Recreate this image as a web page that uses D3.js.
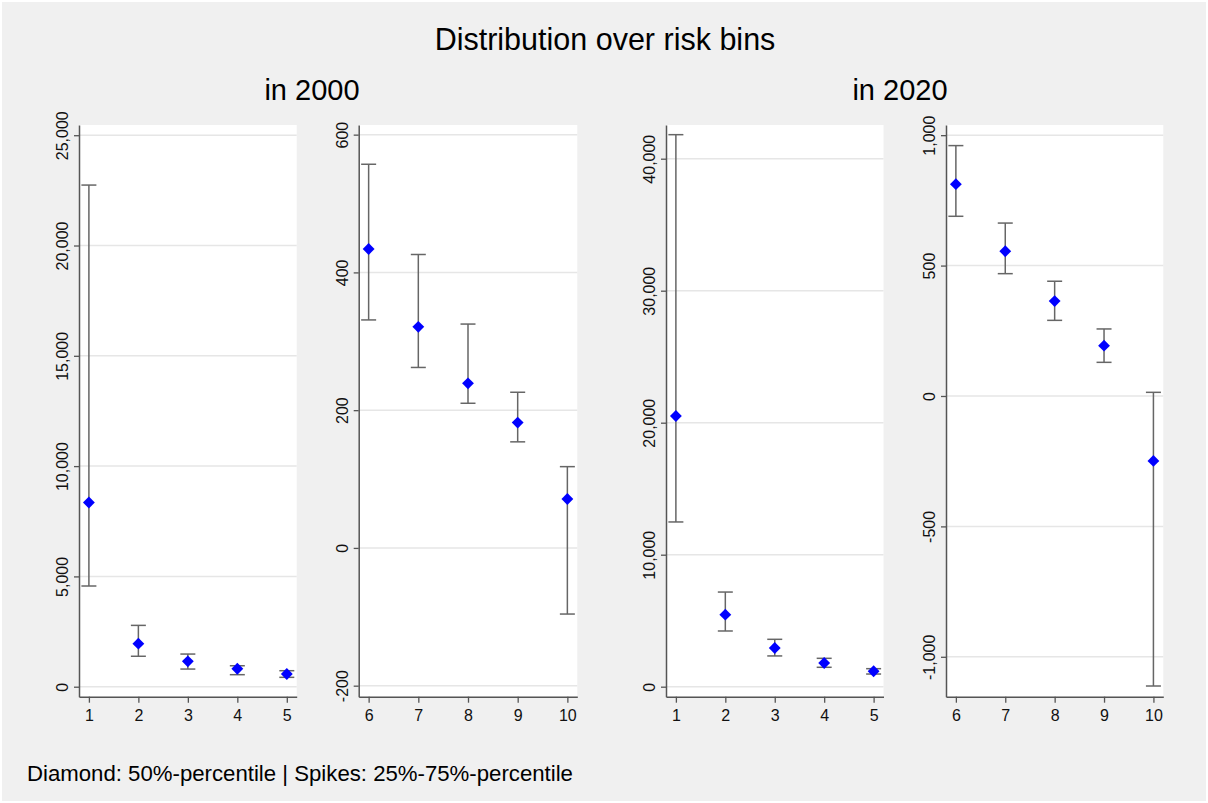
<!DOCTYPE html>
<html>
<head>
<meta charset="utf-8">
<script src="https://cdn.jsdelivr.net/npm/d3@7"></script>
<style>
  body { margin: 0; background: #f0f0f0; }
  svg { display: block; font-family: "Liberation Sans", Arial, sans-serif; }
</style>
</head>
<body>
<div id="chart"></div>
<script>
// risk bins, split in two panels per year
var binsLow = [1, 2, 3, 4, 5];
var binsHigh = [6, 7, 8, 9, 10];

// 50% / 25% / 75% percentiles, bins 1..10
var med2000 = [8350, 1950, 1150, 815, 575, 434, 321, 239, 182, 71];
var p25_2000 = [4565, 1380, 800, 545, 425, 331, 262, 210, 154, -96];
var p75_2000 = [22740, 2780, 1480, 950, 725, 557, 426, 325, 226, 118];

var med2020 = [20510, 5455, 2930, 1795, 1170, 812, 555, 364, 193, -249];
var p25_2020 = [12480, 4220, 2330, 1470, 960, 689, 469, 290, 129, -1112];
var p75_2020 = [41820, 7170, 3590, 2150, 1365, 960, 663, 440, 257, 14];

// y tick labels of each panel
var ticks2000Low = [0, 5000, 10000, 15000, 20000, 25000];
var ticks2000High = [-200, 0, 200, 400, 600];
var ticks2020Low = [0, 10000, 20000, 30000, 40000];
var ticks2020High = [-1000, -500, 0, 500, 1000];

var width = 1208, height = 803;
var plotTop = 125, plotBottom = 696.7;

var fmt = d3.formatLocale({ decimal: ".", thousands: ",", grouping: [3], currency: ["", ""], minus: "-" }).format(",");

function rows(bins, med, lo, hi, offset) {
  return bins.map(function (b, i) {
    return { bin: b, med: med[i + offset], lo: lo[i + offset], hi: hi[i + offset] };
  });
}

var panels = [
  { left: 79, right: 296.7, bins: binsLow, data: rows(binsLow, med2000, p25_2000, p75_2000, 0), ydom: [-453, 25463], ticks: ticks2000Low },
  { left: 358.7, right: 577.3, bins: binsHigh, data: rows(binsHigh, med2000, p25_2000, p75_2000, 5), ydom: [-216, 614], ticks: ticks2000High },
  { left: 666, right: 883.5, bins: binsLow, data: rows(binsLow, med2020, p25_2020, p75_2020, 0), ydom: [-758, 42553], ticks: ticks2020Low },
  { left: 946, right: 1163.3, bins: binsHigh, data: rows(binsHigh, med2020, p25_2020, p75_2020, 5), ydom: [-1153, 1039], ticks: ticks2020High }
];

var svg = d3.select("#chart").append("svg")
  .attr("width", width)
  .attr("height", height);

svg.append("rect")
  .attr("x", 1).attr("y", 1)
  .attr("width", width - 2).attr("height", height - 2)
  .attr("fill", "#f0f0f0")
  .attr("stroke", "#ffffff")
  .attr("stroke-width", 2);

// titles
svg.append("text").attr("x", 605).attr("y", 50).attr("text-anchor", "middle")
  .attr("font-size", 30.5).text("Distribution over risk bins");
svg.append("text").attr("x", 312).attr("y", 100).attr("text-anchor", "middle")
  .attr("font-size", 29).text("in 2000");
svg.append("text").attr("x", 900).attr("y", 100).attr("text-anchor", "middle")
  .attr("font-size", 29).text("in 2020");
svg.append("text").attr("x", 27).attr("y", 781)
  .attr("font-size", 22.2).text("Diamond: 50%-percentile | Spikes: 25%-75%-percentile");

panels.forEach(function (p) {
  var x = d3.scaleLinear()
    .domain([p.bins[0] - 0.2, p.bins[p.bins.length - 1] + 0.2])
    .range([p.left, p.right]);
  var y = d3.scaleLinear().domain(p.ydom).range([plotBottom, plotTop]);

  var g = svg.append("g");

  // plot region
  g.append("rect")
    .attr("x", p.left).attr("y", plotTop)
    .attr("width", p.right - p.left).attr("height", plotBottom - plotTop)
    .attr("fill", "#ffffff");

  // grid
  g.selectAll(".grid").data(p.ticks).enter().append("line")
    .attr("x1", p.left).attr("x2", p.right)
    .attr("y1", function (d) { return y(d); })
    .attr("y2", function (d) { return y(d); })
    .attr("stroke", "#e6e6e6")
    .attr("stroke-width", 1.5);

  // y axis
  var ya = g.append("g")
    .attr("transform", "translate(" + p.left + ",0)")
    .call(d3.axisLeft(y).tickValues(p.ticks).tickSize(5).tickSizeOuter(0).tickFormat(fmt));
  ya.select(".domain").attr("stroke", "#555").attr("stroke-width", 1.5);
  ya.selectAll(".tick line").attr("stroke", "#555").attr("stroke-width", 1.3);
  ya.selectAll(".tick text")
    .attr("x", 0).attr("y", -11).attr("dy", null)
    .attr("text-anchor", "middle")
    .attr("transform", "rotate(-90)")
    .attr("font-size", 16)
    .attr("font-family", "Liberation Sans, Arial, sans-serif")
    .attr("fill", "#111");

  // x axis
  var xa = g.append("g")
    .attr("transform", "translate(0," + plotBottom + ")")
    .call(d3.axisBottom(x).tickValues(p.bins).tickSize(6).tickSizeOuter(0).tickPadding(7).tickFormat(d3.format("d")));
  xa.select(".domain").attr("stroke", "#555").attr("stroke-width", 1.5);
  xa.selectAll(".tick line").attr("stroke", "#555").attr("stroke-width", 1.3);
  xa.selectAll(".tick text")
    .attr("font-size", 16)
    .attr("font-family", "Liberation Sans, Arial, sans-serif")
    .attr("fill", "#111");

  // spikes
  var spikes = g.selectAll(".spike").data(p.data).enter().append("g");
  spikes.append("line")
    .attr("x1", function (d) { return x(d.bin); })
    .attr("x2", function (d) { return x(d.bin); })
    .attr("y1", function (d) { return y(d.lo); })
    .attr("y2", function (d) { return y(d.hi); })
    .attr("stroke", "#666").attr("stroke-width", 1.5);
  spikes.append("line")
    .attr("x1", function (d) { return x(d.bin) - 7.5; })
    .attr("x2", function (d) { return x(d.bin) + 7.5; })
    .attr("y1", function (d) { return y(d.lo); })
    .attr("y2", function (d) { return y(d.lo); })
    .attr("stroke", "#666").attr("stroke-width", 1.5);
  spikes.append("line")
    .attr("x1", function (d) { return x(d.bin) - 7.5; })
    .attr("x2", function (d) { return x(d.bin) + 7.5; })
    .attr("y1", function (d) { return y(d.hi); })
    .attr("y2", function (d) { return y(d.hi); })
    .attr("stroke", "#666").attr("stroke-width", 1.5);

  // median diamonds
  g.selectAll(".med").data(p.data).enter().append("path")
    .attr("d", d3.symbol(d3.symbolSquare, 70))
    .attr("transform", function (d) { return "translate(" + x(d.bin) + "," + y(d.med) + ") rotate(45)"; })
    .attr("fill", "#0000ff");
});
</script>
</body>
</html>
